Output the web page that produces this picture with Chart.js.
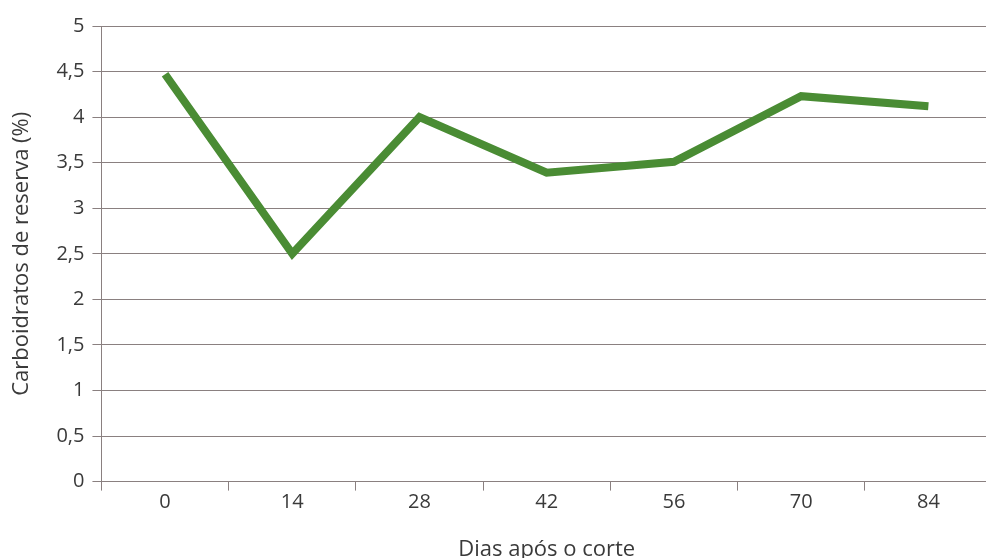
<!DOCTYPE html>
<html>
<head>
<meta charset="utf-8">
<script src="https://cdn.jsdelivr.net/npm/chart.js@4/dist/chart.umd.min.js"></script>
<style>
  html, body { margin: 0; padding: 0; background: #fff; overflow: hidden; }
  #wrap { width: 992px; height: 563px; }
</style>
</head>
<body>
<div id="wrap"><canvas id="myChart"></canvas></div>
<script>
// days after cut (x categories)
const dias = ["0", "14", "28", "42", "56", "70", "84"];
// reserve carbohydrates (%)
const carboidratos = [4.47, 2.5, 4.0, 3.39, 3.51, 4.23, 4.12];

const gridColor = "#8a8080";
const textColor = "#3a3a3a";

const ctx = document.getElementById("myChart");
new Chart(ctx, {
  type: "line",
  data: {
    labels: dias,
    datasets: [
      {
        label: "Carboidratos de reserva",
        data: carboidratos,
        borderColor: "#4a8c34",
        borderWidth: 8,
        pointRadius: 0,
        fill: false,
        tension: 0,
      },
    ],
  },
  options: {
    responsive: true,
    maintainAspectRatio: false,
    animation: false,
    layout: { padding: { top: 26, left: 9, right: 0, bottom: 0 } },
    plugins: {
      legend: { display: false },
      tooltip: { enabled: false },
    },
    scales: {
      x: {
        offset: true,
        grid: {
          offset: true,
          drawOnChartArea: false,
          drawTicks: true,
          tickLength: 9,
          color: gridColor,
        },
        border: { color: gridColor, width: 1 },
        ticks: {
          color: textColor,
          font: { family: "Open Sans", size: 20 },
          padding: 0,
        },
        title: {
          display: true,
          text: "Dias após o corte",
          color: textColor,
          font: { family: "Open Sans", size: 22 },
          padding: { top: 22, bottom: 0 },
        },
      },
      y: {
        min: 0,
        max: 5,
        ticks: {
          stepSize: 0.5,
          color: textColor,
          font: { family: "Open Sans", size: 20 },
          padding: 8,
          callback: (v) => String(v).replace(".", ","),
        },
        grid: {
          color: gridColor,
          drawTicks: true,
          tickLength: 9,
        },
        border: { color: gridColor, width: 1 },
        title: {
          display: true,
          text: "Carboidratos de reserva (%)",
          color: textColor,
          font: { family: "Open Sans", size: 22 },
          padding: { top: 0, bottom: 13 },
        },
      },
    },
  },
});
</script>
</body>
</html>
